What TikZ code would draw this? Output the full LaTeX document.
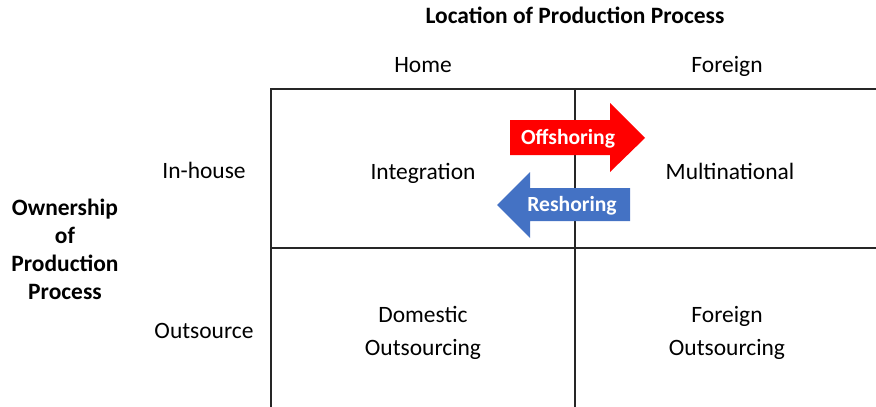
\documentclass[tikz,border=0pt]{standalone}
\usepackage{fontspec}
\setmainfont{Carlito}
\begin{document}
\begin{tikzpicture}[x=0.75pt,y=-0.75pt,
  grid/.style={line width=1.1pt,draw=black!85},
  lbl/.style={font=\fontsize{17.6}{24.75}\selectfont,align=center,inner sep=0pt,anchor=base},
  bold/.style={lbl,font=\fontsize{17.6}{20.8}\selectfont\bfseries},
  arrowtxt/.style={font=\fontsize{16.2}{18}\selectfont\bfseries,text=white,inner sep=0pt,anchor=base}]
\definecolor{offred}{HTML}{FF0000}
\definecolor{resblue}{HTML}{4472C4}
\useasboundingbox (0,0) rectangle (876,407);
% matrix frame
\draw[grid] (271,407) -- (271,89) -- (876,89);
\draw[grid] (575,89) -- (575,407);
\draw[grid] (271,248) -- (876,248);
% headings (multi-line nodes sit on the baseline of their last line)
\node[bold] (title) at (575,23) {Location of Production Process};
\node[lbl] (home) at (423,72) {Home};
\node[lbl] (foreign) at (727,72) {Foreign};
\node[lbl] (inhouse) at (204,178) {In-house};
\node[lbl] (outsource) at (204,338) {Outsource};
\node[bold] (owner) at (65,299) {Ownership\\of\\Production\\Process};
% cells
\node[lbl] (integ) at (423,179) {Integration};
\node[lbl] (multi) at (730,179) {Multinational};
\node[lbl] (domout) at (423,355) {Domestic\\Outsourcing};
\node[lbl] (forout) at (727,355) {Foreign\\Outsourcing};
% block arrows
\fill[offred] (510,120) -- (610,120) -- (610,103) -- (645,138) -- (610,172) -- (610,155) -- (510,155) -- cycle;
\fill[resblue] (630,188) -- (530,188) -- (530,172) -- (497,205) -- (530,238) -- (530,221) -- (630,221) -- cycle;
\node[arrowtxt] (off) at (568,144) {Offshoring};
\node[arrowtxt] (res) at (572,211) {Reshoring};
\end{tikzpicture}
\end{document}
